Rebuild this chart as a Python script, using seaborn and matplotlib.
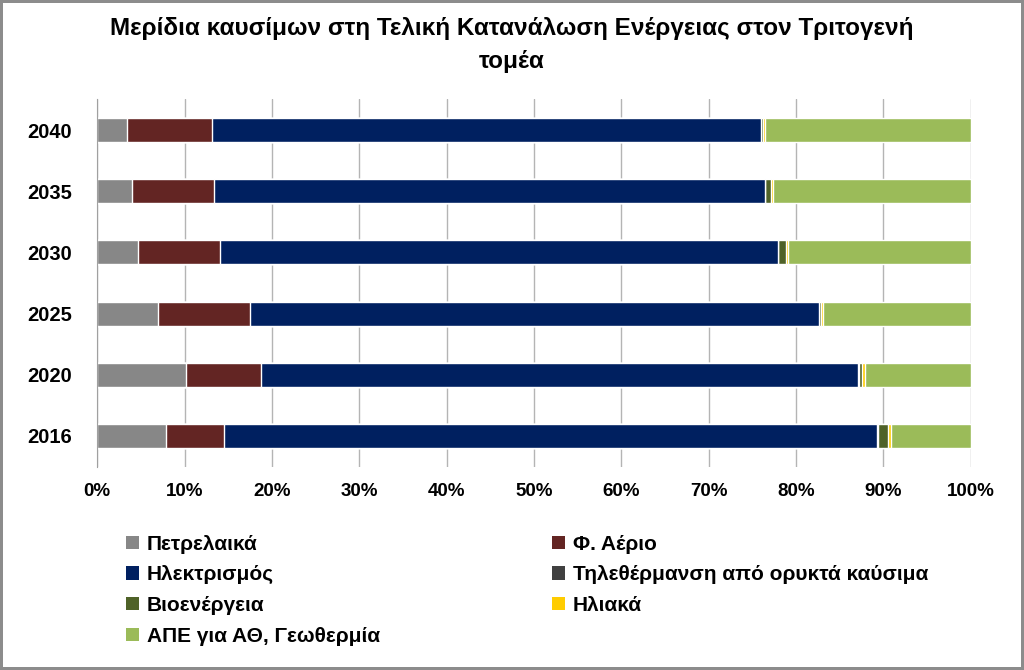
import numpy as np
import pandas as pd
import matplotlib
matplotlib.use("Agg")
import matplotlib.pyplot as plt
import seaborn as sns
from matplotlib.patches import Patch

# Data (shares in %)
years = ["2040", "2035", "2030", "2025", "2020", "2016"]
oil = [3.35, 4.0, 4.7, 6.9, 10.2, 7.9]
gas = [9.75, 9.35, 9.35, 10.6, 8.5, 6.6]
electricity = [62.85, 63.05, 63.85, 65.1, 68.4, 74.8]
district_heat = [0.05, 0.05, 0.05, 0.05, 0.05, 0.1]
bioenergy = [0.2, 0.65, 0.9, 0.15, 0.45, 1.1]
solar = [0.25, 0.3, 0.25, 0.3, 0.3, 0.35]
res_geo = [23.55, 22.6, 20.9, 16.9, 12.1, 9.15]

labels = ["Πετρελαικά", "Φ. Αέριο", "Ηλεκτρισμός", "Τηλεθέρμανση από ορυκτά καύσιμα",
          "Βιοενέργεια", "Ηλιακά", "ΑΠΕ για ΑΘ, Γεωθερμία"]
colors = ["#878787", "#632523", "#002060", "#404040", "#4F6228", "#FFCC00", "#9BBB59"]

df = pd.DataFrame({"year": years, labels[0]: oil, labels[1]: gas, labels[2]: electricity,
                   labels[3]: district_heat, labels[4]: bioenergy, labels[5]: solar,
                   labels[6]: res_geo})
cum = df[labels].cumsum(axis=1) / 100.0

sns.set_style("white")
plt.rcParams["font.family"] = ["Liberation Sans", "DejaVu Sans"]
plt.rcParams["text.color"] = "black"
plt.rcParams["xtick.color"] = "black"
plt.rcParams["ytick.color"] = "black"

fig = plt.figure(figsize=(10.24, 6.70), dpi=100)
fig.patch.set_edgecolor("#8c8c8c")
fig.patch.set_linewidth(3)
ax = fig.add_axes([0.095, 0.3036, 0.853, 0.548])

# stacked bars: draw cumulative totals from the last series back to the first
for lab, col in reversed(list(zip(labels, colors))):
    sns.barplot(x=cum[lab], y=df["year"], orient="h", color=col, width=0.39,
                saturation=1, ax=ax, order=years)

ax.set_xlim(0, 1)
ax.set_ylim(5.5, -0.5)
ax.set_xticks(np.arange(0, 1.01, 0.1))
ax.set_xticklabels([f"{int(round(v*100))}%" for v in np.arange(0, 1.01, 0.1)],
                   fontsize=13.5, fontweight="bold")
ax.set_yticks(range(len(years)))
ax.set_yticklabels(years, fontsize=14.5, fontweight="bold")
ax.set_yticks(np.arange(-0.5, 6, 1), minor=True)
ax.tick_params(axis="y", which="major", length=0, pad=18)
ax.tick_params(axis="y", which="minor", length=6, color="#a0a0a0", width=1)
ax.tick_params(axis="x", length=0, pad=12)
ax.set_xlabel("")
ax.set_ylabel("")
ax.grid(axis="x", color="#b4b4b4", linewidth=1)
ax.set_axisbelow(True)
for s in ["top", "right", "bottom"]:
    ax.spines[s].set_visible(False)
ax.spines["left"].set_color("#a0a0a0")

fig.text(0.5, 0.975, "Μερίδια καυσίμων στη Τελική Κατανάλωση Ενέργειας στον Τριτογενή\nτομέα",
         ha="center", va="top", fontsize=17.5, fontweight="bold", linespacing=1.55)

handles = [Patch(facecolor=c, edgecolor="none") for c in colors]
order = [0, 2, 4, 6, 1, 3, 5]
fig.legend([handles[i] for i in order], [labels[i] for i in order], ncol=2,
           loc="upper left", bbox_to_anchor=(0.105, 0.23), frameon=False,
           prop={"size": 15, "weight": "bold"}, handlelength=0.6, handleheight=0.6,
           handletextpad=0.4, columnspacing=8.25, labelspacing=0.56)

fig.savefig("out.png", dpi=100, edgecolor=fig.get_edgecolor())
